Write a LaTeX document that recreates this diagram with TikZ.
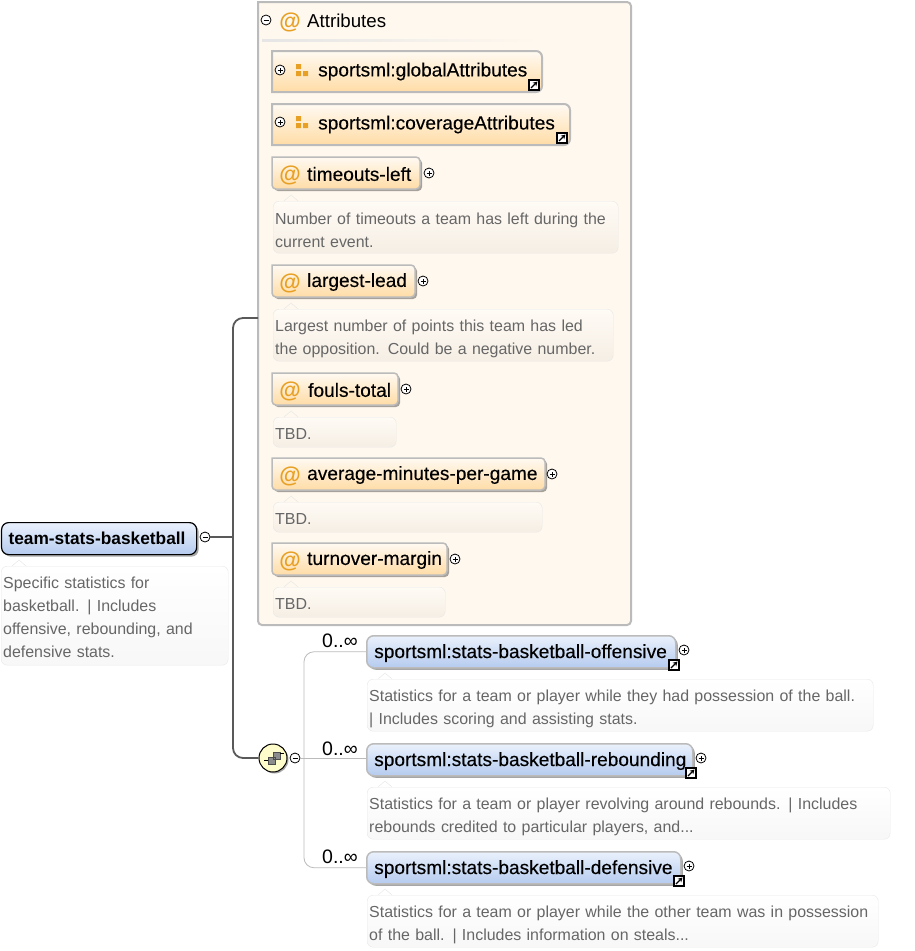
\documentclass[tikz,border=0pt]{standalone}
\usepackage{fontspec}
\setmainfont{Liberation Sans}
\newfontfamily\namefont[FakeBold=0.25]{Liberation Sans}
\usetikzlibrary{arrows.meta,shadows}
\definecolor{attrtop}{HTML}{FFFAF2}
\definecolor{attrbot}{HTML}{FFDCA6}
\definecolor{elemtop}{HTML}{EAF1FC}
\definecolor{elembot}{HTML}{B5CBEF}
\definecolor{atsign}{HTML}{E8A024}
\definecolor{groupfill}{HTML}{FFF8EE}
\definecolor{edge}{HTML}{BBBBBB}
\definecolor{doctext}{HTML}{666666}
\tikzset{
  nametext/.style={inner sep=0pt,anchor=west,text=black,font=\namefont\fontsize{19.1}{22}\selectfont},
  attrback/.style={draw=edge,line width=1.5pt,top color=attrtop,bottom color=attrbot,
    drop shadow={shadow xshift=2pt,shadow yshift=-2pt,fill=black,opacity=.35}},
  refback/.style={draw=edge,line width=2pt,top color=attrtop,bottom color=attrbot},
  elembase/.style={anchor=north west,align=left,draw=edge,line width=1.5pt,rounded corners=7pt,top color=elemtop,bottom color=elembot,
    minimum height=32pt,inner xsep=7.5pt,inner ysep=0pt,text=black,
    drop shadow={shadow xshift=2pt,shadow yshift=-2pt,fill=black,opacity=.35}},
  elem/.style={elembase,font=\namefont\fontsize{19.1}{22}\selectfont,execute at begin node={\rule{0pt}{16.5pt}}},
  docbase/.style={anchor=north west,align=left,rounded corners=6pt,inner xsep=2pt,inner ysep=0pt,
    text=doctext,font=\fontsize{15.95}{23}\selectfont},
  tworows/.style={execute at begin node={\rule{0pt}{18pt}}},
  tallrows/.style={execute at begin node={\rule{0pt}{14pt}}},
  doc/.style={docbase,draw=black!9,top color=white,bottom color=black!3},
  attrdoc/.style={docbase,draw=black!9,top color=groupfill!60!white,bottom color=groupfill!96!black},
  atmark/.style={inner sep=0pt,text=atsign,font=\bfseries\fontsize{22}{22}\selectfont},
  occurs/.style={inner sep=0pt,anchor=west,text=black,font=\fontsize{19.5}{20}\selectfont},
  toggle/.style={circle,draw=black,line width=.8pt,fill=white,minimum size=10pt,inner sep=0pt},
  plusicon/.style={toggle,path picture={
    \draw[line width=.8pt,shift={(path picture bounding box.center)}] (-2.5pt,0pt) -- (2.5pt,0pt) (0pt,-2.5pt) -- (0pt,2.5pt);}},
  minusicon/.style={toggle,path picture={
    \draw[line width=.8pt,shift={(path picture bounding box.center)}] (-2.5pt,0pt) -- (2.5pt,0pt);}},
  linkicon/.style={rectangle,draw=black,line width=1.2pt,fill=white,minimum size=10pt,inner sep=0pt,path picture={
    \draw[line width=1.3pt,-{Stealth[length=4.5pt,width=5pt]},shift={(path picture bounding box.center)}] (-3pt,-3pt) -- (3.5pt,3.5pt);}},
  groupicon/.style={rectangle,minimum size=14pt,inner sep=0pt,path picture={
    \fill[atsign,shift={(path picture bounding box.center)}] (-6pt,1pt) rectangle (-1pt,6pt)
      (-6pt,-6pt) rectangle (-1pt,-1pt) (1pt,-6pt) rectangle (6pt,-1pt);}},
  seqicon/.style={circle,draw=black,line width=1pt,fill=yellow!20!white,minimum size=28pt,inner sep=0pt,
    drop shadow={shadow xshift=1.5pt,shadow yshift=-1.5pt,fill=black,opacity=.35},path picture={
    \draw[black!70,fill=black!45,shift={(path picture bounding box.center)}] (0pt,-1pt) rectangle (7pt,6pt) (-5pt,-6pt) rectangle (2pt,1pt);
    \draw[line width=.8pt,shift={(path picture bounding box.center)}] (-9pt,-2.5pt) -- (-5pt,-2.5pt) (7pt,4.5pt) -- (11pt,4.5pt);}},
  trunkline/.style={draw=black!65,line width=1.8pt,rounded corners=10pt},
  branchline/.style={draw=edge,line width=.8pt,rounded corners=10pt},
}
\newcommand{\roundback}[5]{\path[#1] (#2,#3) [rounded corners=4pt] -- (#4,#3) -- (#4,#5) -- (#2,#5) [sharp corners] -- cycle;}
\newcommand{\refbox}[4]{\path[refback] (#1,#4) -- (#1,#2) [rounded corners=6pt] -- (#3,#2) -- (#3,#4) [sharp corners] -- cycle;}
\begin{document}
\begin{tikzpicture}[x=1pt,y=-1pt]
\useasboundingbox (0,0) rectangle (914,951);
% attribute group
\roundback{draw=edge,line width=2pt,fill=groupfill}{258}{2}{631}{625}
\shade[left color=black!10,right color=groupfill] (262,39.5) rectangle (540,41);
\node[minusicon] (attrminus) at (266,20) {};
\node[atmark] (attrat) at (290,22) {@};
\node[nametext,font=\fontsize{18.7}{22}\selectfont] (attrtitle) at (307,21) {Attributes};
% references
\refbox{272}{51}{542}{92}
\node[plusicon] (globalplus) at (280,70) {};
\node[groupicon] (globalicon) at (302,70) {};
\node[nametext] (global) at (318,71.5) {sportsml:globalAttributes};
\node[linkicon] (globallink) at (534,85) {};
\refbox{272}{104}{570}{145}
\node[plusicon] (coverplus) at (280,122) {};
\node[groupicon] (covericon) at (302,122) {};
\node[nametext] (cover) at (318,124.5) {sportsml:coverageAttributes};
\node[linkicon] (coverlink) at (562,138) {};
% attributes
\roundback{attrback}{272}{157}{420}{189}
\node[atmark] (timeoutsat) at (290,175) {@};
\node[nametext] (timeouts) at (307,174) {timeouts-left};
\node[plusicon] (timeoutsplus) at (429,173) {};
\node[attrdoc,tworows,minimum width=345pt,minimum height=52pt,text width=341pt] (timeoutsdoc) at (273,201) {Number of timeouts a team has left during the\\current event.};
\roundback{attrback}{272}{265}{415}{297}
\node[atmark] (leadat) at (290,283) {@};
\node[nametext] (lead) at (307,282) {largest-lead};
\node[plusicon] (leadplus) at (423,281) {};
\node[attrdoc,tworows,minimum width=340pt,minimum height=52pt,text width=336pt] (leaddoc) at (273,309) {Largest number of points this team has led\\the opposition. Could be a negative number.};
\roundback{attrback}{272}{373}{398}{405}
\node[atmark] (foulsat) at (290,391) {@};
\node[nametext] (fouls) at (308,390) {fouls-total};
\node[plusicon] (foulsplus) at (406,389) {};
\node[attrdoc,tallrows,minimum width=123pt,minimum height=30pt,text width=119pt] (foulsdoc) at (273,417) {TBD.};
\roundback{attrback}{272}{458}{545}{490}
\node[atmark] (averageat) at (290,476) {@};
\node[nametext] (average) at (307,475) {average-minutes-per-game};
\node[plusicon] (averageplus) at (552,474) {};
\node[attrdoc,tallrows,minimum width=269pt,minimum height=30pt,text width=265pt] (averagedoc) at (273,502) {TBD.};
\roundback{attrback}{272}{543}{447}{575}
\node[atmark] (turnoverat) at (290,561) {@};
\node[nametext] (turnover) at (307,560) {turnover-margin};
\node[plusicon] (turnoverplus) at (455,559) {};
\node[attrdoc,tallrows,minimum width=172pt,minimum height=30pt,text width=168pt] (turnoverdoc) at (273,587) {TBD.};
% root element
\node[elembase,draw=black,line width=1.2pt,inner xsep=7pt,text width=181pt,font=\bfseries\fontsize{17.3}{22}\selectfont] (team) at (1,522) {team-stats-basketball};
\node[minusicon] (teamminus) at (205,537) {};
\node[doc,tallrows,minimum width=227pt,minimum height=99pt,text width=223pt] (teamdoc) at (1,566) {Specific statistics for\\basketball. | Includes\\offensive, rebounding, and\\defensive stats.};
% child elements
\node[seqicon] (seq) at (273,758) {};
\node[minusicon] (seqminus) at (295,758) {};
\node[elem,text width=294pt] (offensive) at (366,635) {\mbox{sportsml:stats-basketball-offensive}};
\node[plusicon] (offensiveplus) at (684,650) {};
\node[linkicon] (offensivelink) at (674,665) {};
\node[occurs] (offensiveocc) at (322,641) {0..∞};
\node[doc,tworows,minimum width=506pt,minimum height=52pt,text width=502pt] (offensivedoc) at (367,679) {Statistics for a team or player while they had possession of the ball.\\| Includes scoring and assisting stats.};
\node[elem,text width=311pt] (rebounding) at (366,743) {\mbox{sportsml:stats-basketball-rebounding}};
\node[plusicon] (reboundingplus) at (701,758) {};
\node[linkicon] (reboundinglink) at (691,773) {};
\node[occurs] (reboundingocc) at (322,749) {0..∞};
\node[doc,tworows,minimum width=523pt,minimum height=52pt,text width=519pt] (reboundingdoc) at (367,787) {Statistics for a team or player revolving around rebounds. | Includes\\rebounds credited to particular players, and...};
\node[elem,text width=299pt] (defensive) at (366,851) {\mbox{sportsml:stats-basketball-defensive}};
\node[plusicon] (defensiveplus) at (689,866) {};
\node[linkicon] (defensivelink) at (679,881) {};
\node[occurs] (defensiveocc) at (322,857) {0..∞};
\node[doc,tworows,minimum width=511pt,minimum height=52pt,text width=507pt] (defensivedoc) at (367,895) {Statistics for a team or player while the other team was in possession\\of the ball. | Includes information on steals...};
% doc notches
\foreach \n/\c in {timeoutsdoc/groupfill,leaddoc/groupfill,foulsdoc/groupfill,averagedoc/groupfill,turnoverdoc/groupfill,
  teamdoc/white,offensivedoc/white,reboundingdoc/white,defensivedoc/white}
  \draw[draw=black!10,fill=\c] ([xshift=11pt]\n.north west) -- ++(7pt,6pt) -- ++(7pt,-6pt);
% connectors
\coordinate (trunk) at (233,537);
\coordinate (attrjoin) at (258,318);
\coordinate (spine) at (304,758);
\draw[trunkline] (teamminus.east) -- (trunk);
\draw[trunkline] (attrjoin) -| (trunk) |- (seq.west);
\draw[branchline] (seqminus.east) -- (seqminus.east -| rebounding.west);
\draw[branchline] (offensive.west) -| (spine) |- (defensive.west);
\end{tikzpicture}
\end{document}
